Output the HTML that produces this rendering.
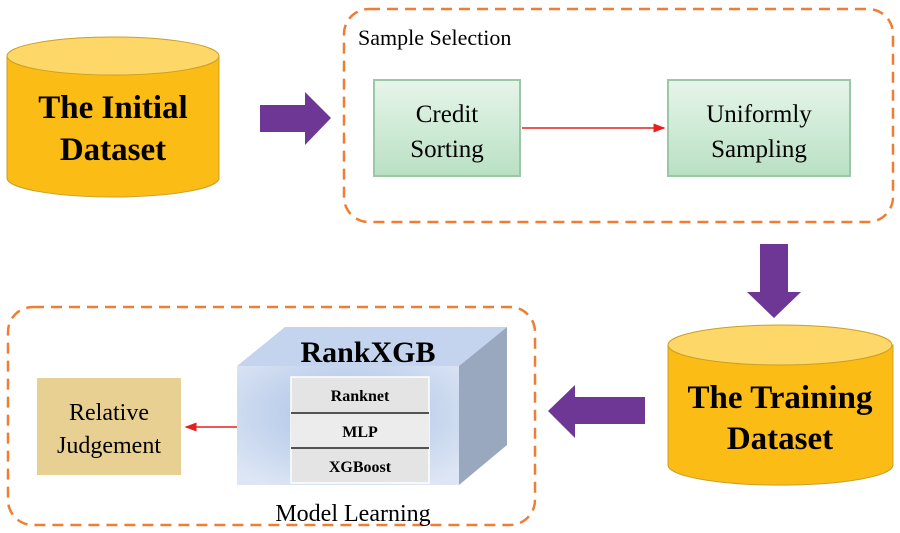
<!DOCTYPE html>
<html><head><style>body{margin:0;background:#fff}svg{display:block}</style></head><body>
<svg width="900" height="533" viewBox="0 0 900 533" xmlns="http://www.w3.org/2000/svg" font-family="Liberation Serif, serif">
<defs>
<linearGradient id="g1" x1="0" y1="0" x2="0" y2="1"><stop offset="0" stop-color="#e6f5ea"/><stop offset="1" stop-color="#b9e0c3"/></linearGradient>
<radialGradient id="bl" cx="0.5" cy="0.4" r="0.7"><stop offset="0" stop-color="#a9c0e6"/><stop offset="1" stop-color="#dde6f4"/></radialGradient>
<marker id="ar" markerWidth="8" markerHeight="8" refX="7" refY="4" orient="auto"><path d="M0,1 L8,4 L0,7 z" fill="#e62020"/></marker>
</defs>
<path d="M7,56 L7,178 A106,19 0 0 0 219,178 L219,56 Z" fill="#fbbc16" stroke="#c9a027"/>
<ellipse cx="113" cy="56" rx="106" ry="19" fill="#fdd767" stroke="#c9a027"/>
<text x="113" y="118" font-size="33" font-weight="bold" text-anchor="middle">The Initial</text>
<text x="113" y="160" font-size="33" font-weight="bold" text-anchor="middle">Dataset</text>
<path d="M260,105 L305,105 L305,92 L331,118 L305,145 L305,132 L260,132 Z" fill="#6e3796"/>
<rect x="344" y="9" width="549" height="213" rx="25" fill="none" stroke="#ef7d32" stroke-width="2.5" stroke-dasharray="11,7"/>
<text x="358" y="45" font-size="22">Sample Selection</text>
<rect x="374" y="80" width="146" height="96" fill="url(#g1)" stroke="#9cc7a6" stroke-width="2"/>
<text x="447" y="122" font-size="25" text-anchor="middle">Credit</text>
<text x="447" y="157" font-size="25" text-anchor="middle">Sorting</text>
<rect x="668" y="80" width="182" height="96" fill="url(#g1)" stroke="#9cc7a6" stroke-width="2"/>
<text x="759" y="122" font-size="25" text-anchor="middle">Uniformly</text>
<text x="759" y="157" font-size="25" text-anchor="middle">Sampling</text>
<line x1="522" y1="128" x2="664" y2="128" stroke="#e62020" stroke-width="1.5" marker-end="url(#ar)"/>
<path d="M760,244 L788,244 L788,292 L801,292 L774,318 L747,292 L760,292 Z" fill="#6e3796"/>
<path d="M668,345 L668,465 A112,20 0 0 0 893,465 L893,345 Z" fill="#fbbc16" stroke="#c9a027"/>
<ellipse cx="780" cy="345" rx="112" ry="20" fill="#fdd767" stroke="#c9a027"/>
<text x="780" y="408" font-size="33" font-weight="bold" text-anchor="middle">The Training</text>
<text x="780" y="449" font-size="33" font-weight="bold" text-anchor="middle">Dataset</text>
<path d="M645,397 L575,397 L575,385 L548,411 L575,438 L575,424 L645,424 Z" fill="#6e3796"/>
<rect x="8" y="307" width="527" height="218" rx="25" fill="none" stroke="#ef7d32" stroke-width="2.5" stroke-dasharray="11,7"/>
<path d="M237,366 L285,327 L507,327 L459,366 Z" fill="#c5d4ee"/>
<path d="M459,366 L507,327 L507,445 L459,485 Z" fill="#9aa8bf"/>
<rect x="237" y="366" width="222" height="119" fill="url(#bl)"/>
<text x="368" y="362" font-size="30" font-weight="bold" text-anchor="middle">RankXGB</text>
<rect x="291" y="377" width="138" height="106" fill="#e4e4e4" stroke="#fff" stroke-width="1.5"/>
<rect x="291" y="413" width="138" height="35" fill="#ececec"/>
<line x1="291" y1="413" x2="429" y2="413" stroke="#222" stroke-width="1.5"/>
<line x1="291" y1="448" x2="429" y2="448" stroke="#222" stroke-width="1.5"/>
<text x="360" y="401" font-size="16" font-weight="bold" text-anchor="middle">Ranknet</text>
<text x="360" y="437" font-size="16" font-weight="bold" text-anchor="middle">MLP</text>
<text x="360" y="472" font-size="16" font-weight="bold" text-anchor="middle">XGBoost</text>
<rect x="37" y="378" width="144" height="97" fill="#e8cf92"/>
<text x="109" y="420" font-size="24" text-anchor="middle">Relative</text>
<text x="109" y="453" font-size="24" text-anchor="middle">Judgement</text>
<line x1="237" y1="427" x2="186" y2="427" stroke="#e62020" stroke-width="1.5" marker-end="url(#ar)"/>
<text x="353" y="521" font-size="24" text-anchor="middle">Model Learning</text>
</svg>
</body></html>
